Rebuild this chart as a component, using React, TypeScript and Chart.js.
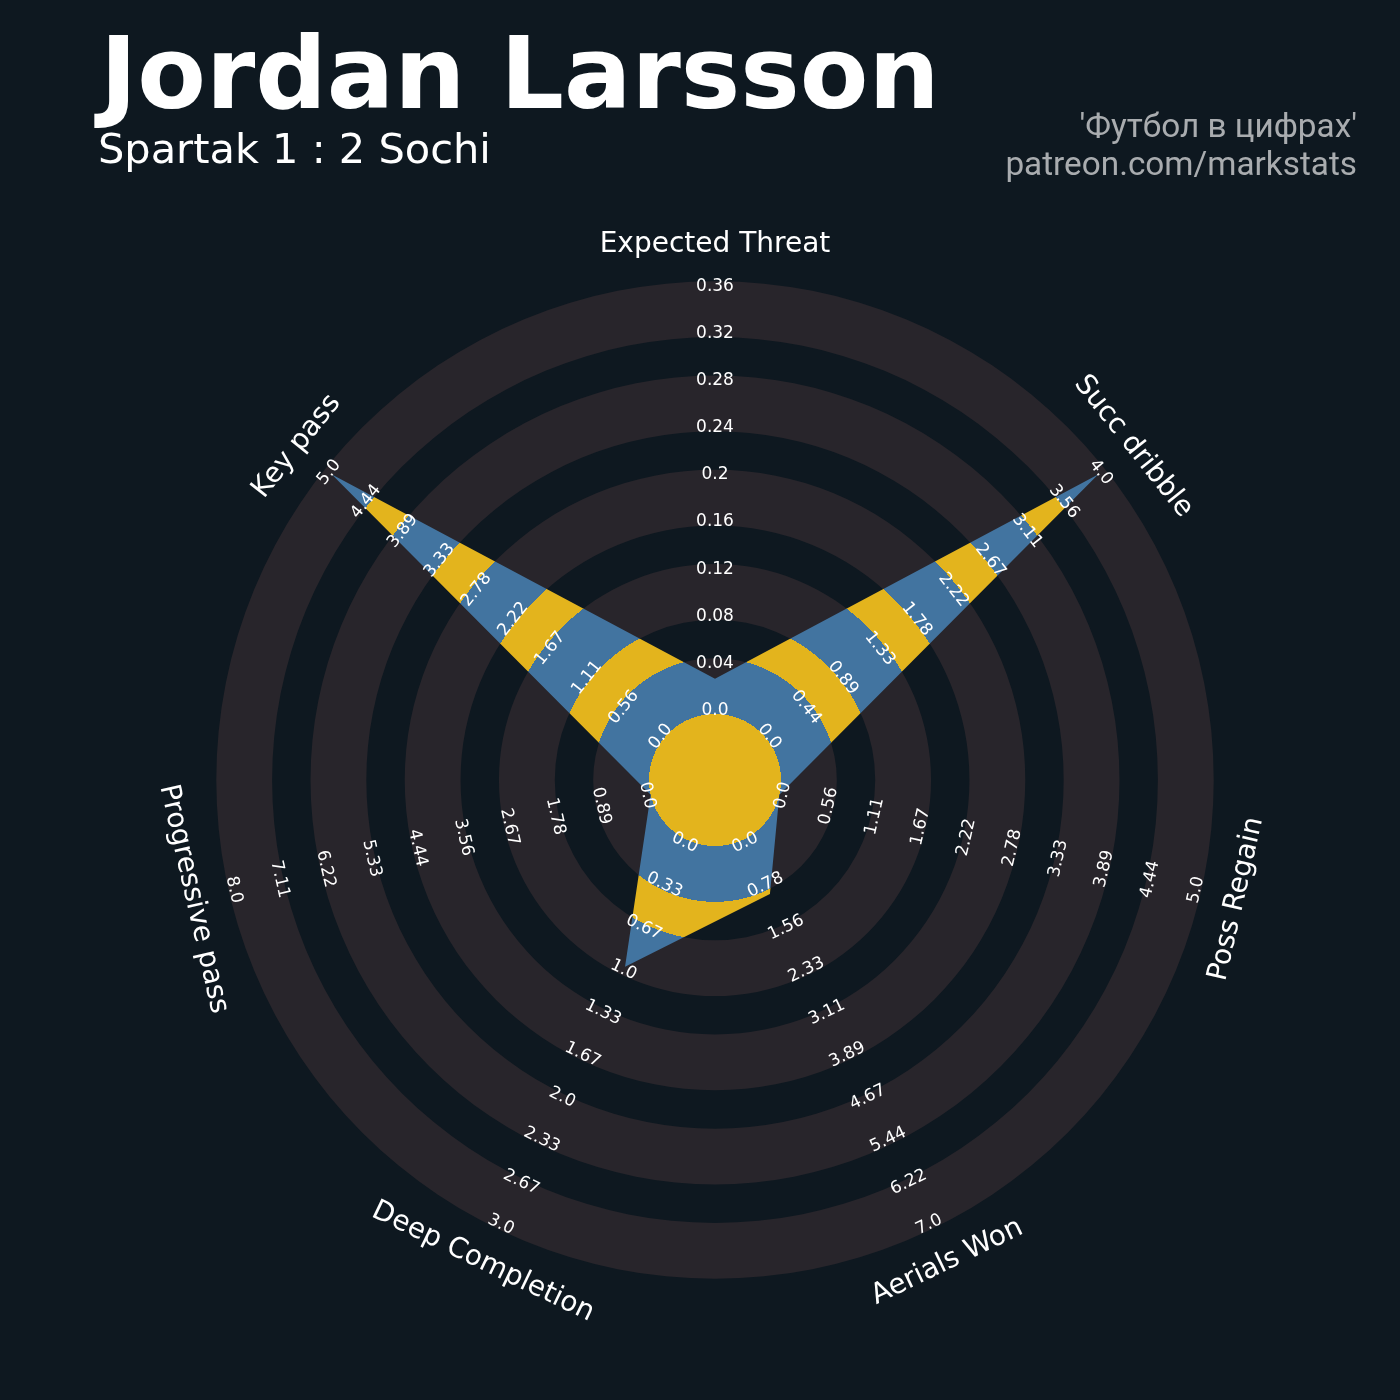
import React, { useEffect, useRef } from "react";
import { Chart, registerables } from "chart.js";

Chart.register(...registerables);

// ---------- data ----------
const PARAMS = [
  "Expected Threat",
  "Succ dribble",
  "Poss Regain",
  "Aerials Won",
  "Deep Completion",
  "Progressive pass",
  "Key pass",
];
const LOW = [0, 0, 0, 0, 0, 0, 0];
const HIGH = [0.36, 4.0, 5.0, 7.0, 3.0, 8.0, 5.0];
const VALUES = [0.03, 4.0, 0.0, 1.0, 1.0, 0.0, 5.0];

const LABELS_XT = ["0.0", "0.04", "0.08", "0.12", "0.16", "0.2", "0.24", "0.28", "0.32", "0.36"];
const LABELS_DRIBBLE = ["0.0", "0.44", "0.89", "1.33", "1.78", "2.22", "2.67", "3.11", "3.56", "4.0"];
const LABELS_REGAIN = ["0.0", "0.56", "1.11", "1.67", "2.22", "2.78", "3.33", "3.89", "4.44", "5.0"];
const LABELS_AERIALS = ["0.0", "0.78", "1.56", "2.33", "3.11", "3.89", "4.67", "5.44", "6.22", "7.0"];
const LABELS_DEEP = ["0.0", "0.33", "0.67", "1.0", "1.33", "1.67", "2.0", "2.33", "2.67", "3.0"];
const LABELS_PROG = ["0.0", "0.89", "1.78", "2.67", "3.56", "4.44", "5.33", "6.22", "7.11", "8.0"];
const LABELS_KEY = ["0.0", "0.56", "1.11", "1.67", "2.22", "2.78", "3.33", "3.89", "4.44", "5.0"];
const RANGE_LABELS = [
  LABELS_XT,
  LABELS_DRIBBLE,
  LABELS_REGAIN,
  LABELS_AERIALS,
  LABELS_DEEP,
  LABELS_PROG,
  LABELS_KEY,
];

const TITLE = "Jordan Larsson";
const SUBTITLE = "Spartak 1 : 2 Sochi";
const CREDITS = ["'Футбол в цифрах'", "patreon.com/markstats"];

// ---------- style ----------
const BG = "#0e1820";
const RING = "#28252b";
const BLUE = "#4274a0";
const YELLOW = "#e3b41d";
const STEPS = 9; // label steps along each axis
const BAND = 1.185; // width of the light rings, in steps
const CENTER_FRAC = 66 / 424; // center circle radius relative to the value span

const NORMALIZED = VALUES.map((v, i) => (v - LOW[i]) / (HIGH[i] - LOW[i]));

function textRotation(angle: number) {
  let a = angle;
  while (a > Math.PI) a -= 2 * Math.PI;
  while (a <= -Math.PI) a += 2 * Math.PI;
  if (a > Math.PI / 2 + 1e-6) a -= Math.PI;
  else if (a < -Math.PI / 2 - 1e-6) a += Math.PI;
  return a;
}

function bandGradient(chart: any) {
  const s = chart.scales && chart.scales.r;
  if (!s || s.xCenter === undefined || !s.drawingArea) return BLUE;
  const cx = s.xCenter;
  const cy = s.yCenter;
  const outer = s.getDistanceFromCenterForValue((STEPS + 2) / STEPS);
  const g = chart.ctx.createRadialGradient(cx, cy, 0, cx, cy, outer);
  const f = (v: number) => Math.min(1, Math.max(0, s.getDistanceFromCenterForValue(v) / outer));
  let prev = 0;
  let color = YELLOW;
  const edges: number[] = [f(0)];
  for (let j = 0; j < 5; j++) {
    edges.push(f((2 * j + BAND) / STEPS));
    if (j < 4) edges.push(f((2 * j + 2) / STEPS));
  }
  for (const e of edges) {
    g.addColorStop(prev, color);
    g.addColorStop(e, color);
    color = color === YELLOW ? BLUE : YELLOW;
    prev = e;
  }
  g.addColorStop(prev, color);
  g.addColorStop(1, color);
  return g;
}

const decor = {
  id: "radarDecor",
  beforeDatasetsDraw(chart: any) {
    const s = chart.scales.r;
    const ctx = chart.ctx;
    const cx = s.xCenter;
    const cy = s.yCenter;
    ctx.save();
    for (let j = 0; j < 5; j++) {
      const r1 = s.getDistanceFromCenterForValue((2 * j) / STEPS);
      const r2 = s.getDistanceFromCenterForValue((2 * j + BAND) / STEPS);
      ctx.beginPath();
      ctx.arc(cx, cy, r2, 0, Math.PI * 2);
      ctx.arc(cx, cy, r1, 0, Math.PI * 2, true);
      ctx.closePath();
      ctx.fillStyle = RING;
      ctx.fill();
    }
    const rc = s.getDistanceFromCenterForValue(0);
    ctx.beginPath();
    ctx.arc(cx, cy, rc, 0, Math.PI * 2);
    ctx.fillStyle = YELLOW;
    ctx.fill();
    ctx.restore();
  },
  afterDatasetsDraw(chart: any) {
    const s = chart.scales.r;
    const ctx = chart.ctx;
    ctx.save();
    ctx.textAlign = "center";
    ctx.textBaseline = "middle";
    // range labels
    ctx.font = '17px "DejaVu Sans"';
    ctx.fillStyle = "#ffffff";
    PARAMS.forEach((_, i) => {
      const rot = textRotation(s.getIndexAngle(i));
      RANGE_LABELS[i].forEach((lab, k) => {
        const d = s.getDistanceFromCenterForValue(k / STEPS) + 3.5;
        const p = s.getPointPosition(i, d);
        ctx.save();
        ctx.translate(p.x, p.y);
        ctx.rotate(rot);
        ctx.fillText(lab, 0, 0);
        ctx.restore();
      });
    });
    // parameter labels
    ctx.font = '28px "DejaVu Sans"';
    PARAMS.forEach((name, i) => {
      const rot = textRotation(s.getIndexAngle(i));
      const p = s.getPointPosition(i, s.drawingArea + 45);
      ctx.save();
      ctx.translate(p.x, p.y);
      ctx.rotate(rot);
      ctx.fillText(name, 0, 0);
      ctx.restore();
    });
    ctx.restore();
  },
  afterDraw(chart: any) {
    const ctx = chart.ctx;
    ctx.save();
    ctx.textBaseline = "alphabetic";
    ctx.textAlign = "left";
    ctx.fillStyle = "#ffffff";
    ctx.font = 'bold 100px "DejaVu Sans"';
    ctx.fillText(TITLE, 100, 108);
    ctx.font = '41.5px "DejaVu Sans"';
    ctx.fillText(SUBTITLE, 98, 163);
    ctx.textAlign = "right";
    ctx.fillStyle = "#a9acaf";
    ctx.font = '33.3px Roboto';
    ctx.fillText(CREDITS[0], 1357, 137);
    ctx.fillText(CREDITS[1], 1357, 175);
    ctx.restore();
  },
};

export default function App() {
  const ref = useRef<HTMLCanvasElement>(null);
  useEffect(() => {
    document.body.style.margin = "0";
    document.body.style.background = BG;
    document.body.style.overflow = "hidden";
    const chart = new Chart(ref.current as HTMLCanvasElement, {
      type: "radar",
      data: {
        labels: PARAMS,
        datasets: [
          {
            data: NORMALIZED,
            backgroundColor: (c: any) => bandGradient(c.chart),
            borderWidth: 0,
            borderColor: "rgba(0,0,0,0)",
            pointRadius: 0,
            pointHoverRadius: 0,
            fill: "start",
            tension: 0,
          },
        ],
      },
      options: {
        responsive: false,
        animation: false,
        devicePixelRatio: 1,
        layout: { padding: { left: 225, right: 195, top: 290, bottom: 130 } },
        plugins: {
          legend: { display: false },
          tooltip: { enabled: false },
          title: { display: false },
        },
        scales: {
          r: {
            min: -CENTER_FRAC,
            max: 1,
            startAngle: 0,
            ticks: { display: false },
            grid: { display: false },
            angleLines: { display: false },
            pointLabels: { display: false },
          },
        },
      },
      plugins: [decor],
    } as any);
    return () => chart.destroy();
  }, []);
  return (
    <div style={{ position: "absolute", left: 0, top: 0, width: 1400, height: 1400, background: BG }}>
      <canvas ref={ref} width={1400} height={1400} style={{ display: "block", width: 1400, height: 1400 }} />
    </div>
  );
}
